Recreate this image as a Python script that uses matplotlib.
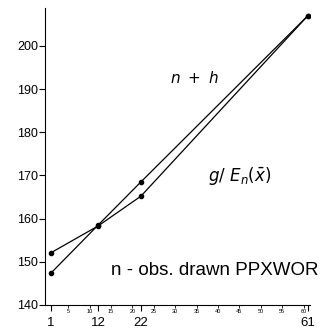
import matplotlib
matplotlib.use("Agg")
import matplotlib.pyplot as plt

# sample sizes and the two expected-value curves
n_obs = [1, 12, 22, 61]
n_plus_h = [147.4, 158.5, 168.5, 207.0]
g_en = [152.1, 158.3, 165.2, 207.0]

major_ticks = [1, 12, 22, 61]
minor_ticks = [5, 10, 15, 20, 25, 30, 35, 40, 45, 50, 55, 60]
y_ticks = [140, 150, 160, 170, 180, 190, 200]

plt.rcParams['font.family'] = ['Liberation Sans', 'DejaVu Sans']

fig = plt.figure(figsize=(3.22, 3.29), dpi=100)
ax = fig.add_axes([0.1398, 0.073, 0.823, 0.903])

ax.plot(n_obs, n_plus_h, color='k', linewidth=0.9, marker='o', markersize=3)
ax.plot(n_obs, g_en, color='k', linewidth=0.9, marker='o', markersize=3)

ax.set_xlim(-0.4, 61.5)
ax.set_ylim(140, 208.8)

ax.spines['top'].set_visible(False)
ax.spines['right'].set_visible(False)

ax.set_yticks(y_ticks)
ax.set_yticklabels([str(v) for v in y_ticks], fontsize=9)
ax.tick_params(axis='y', direction='out', length=4, width=0.8, pad=1)

ax.set_xticks(major_ticks)
ax.set_xticklabels([str(v) for v in major_ticks], fontsize=9.5)
ax.set_xticks(minor_ticks, minor=True)
ax.set_xticklabels([str(v) for v in minor_ticks], minor=True, fontsize=4)
ax.tick_params(axis='x', which='major', direction='out', length=4, width=0.8, pad=4.5)
ax.tick_params(axis='x', which='minor', direction='out', length=2.5, width=0.6, pad=0.5)

ax.text(28.8, 192.6, r'$n\ +\ h$', fontsize=11, va='center')
ax.text(37.7, 169.8, r'$g/\ E_n(\bar{x})$', fontsize=12, va='center')
ax.text(15.0, 147.9, 'n - obs. drawn PPXWOR', fontsize=13.5, va='center')

fig.savefig('out.png', dpi=100)
